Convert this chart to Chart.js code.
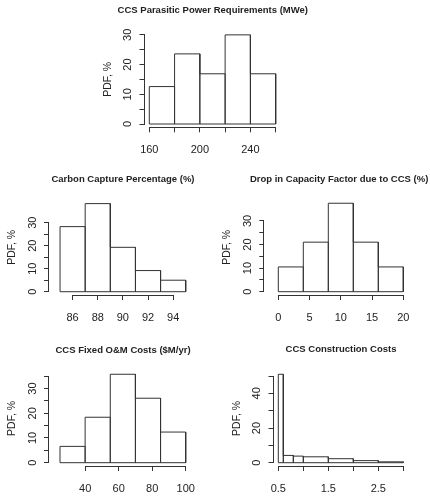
<!DOCTYPE html>
<html>
<head>
<meta charset="utf-8">
<script src="https://cdn.jsdelivr.net/npm/chart.js@4.4.1/dist/chart.umd.min.js"></script>
<style>
  html, body { margin: 0; padding: 0; background: #fff; overflow: hidden; }
  .wrap { position: relative; width: 430px; height: 498px; }
  .wrap canvas { position: absolute; left: 0; top: 0; }
</style>
</head>
<body>
<div class="wrap">
  <canvas id="parasitic" width="430" height="498"></canvas>
  <canvas id="capture" width="430" height="498"></canvas>
  <canvas id="drop" width="430" height="498"></canvas>
  <canvas id="om" width="430" height="498"></canvas>
  <canvas id="construction" width="430" height="498"></canvas>
</div>
<script>
// --- data ---
const parasiticEdges = [160, 180, 200, 220, 240, 260];
const parasiticPdf = [12.6, 23.6, 16.9, 30.0, 16.9];
const parasiticXTicks = [160, 180, 200, 220, 240, 260];
const parasiticXLabels = [160, 200, 240];

const captureEdges = [85, 87, 89, 91, 93, 95];
const capturePdf = [28.3, 38.3, 19.3, 9.2, 5.0];
const captureXTicks = [86, 88, 90, 92, 94];
const captureXLabels = [86, 88, 90, 92, 94];

const dropEdges = [0, 4, 8, 12, 16, 20];
const dropPdf = [10.5, 21.0, 37.5, 21.0, 10.5];
const dropXTicks = [0, 5, 10, 15, 20];
const dropXLabels = [0, 5, 10, 15, 20];

const omEdges = [25, 40, 55, 70, 85, 100];
const omPdf = [6.6, 18.4, 35.8, 26.1, 12.4];
const omXTicks = [40, 60, 80, 100];
const omXLabels = [40, 60, 80, 100];

const constructionEdges = [0.5, 0.6, 0.8, 1.0, 1.5, 2.0, 2.5, 3.0];
const constructionPdf = [51, 4.2, 3.8, 3.4, 2.3, 1.2, 0.5];
const constructionXTicks = [0.5, 1.0, 1.5, 2.0, 2.5, 3.0];
const constructionXLabels = [0.5, 1.5, 2.5];

const yTicks30 = [0, 5, 10, 15, 20, 25, 30];
const yTicks35 = [0, 5, 10, 15, 20, 25, 30, 35];
const yTicks50 = [0, 10, 20, 30, 40, 50];
const yLabels10 = [0, 10, 20, 30];
const yLabels20 = [0, 20, 40];

const yTitle = 'PDF, %';
const ink = '#222';
const lineCol = '#333';

Chart.defaults.font.family = "'Liberation Sans', Arial, sans-serif";
Chart.defaults.color = ink;

// outline of a histogram, R style: one rectangle per bin
function outline(edges, pdf) {
    const pts = [{ x: edges[0], y: 0 }];
    pdf.forEach((h, i) => {
        pts.push({ x: edges[i], y: h }, { x: edges[i + 1], y: h }, { x: edges[i + 1], y: 0 });
    });
    pts.push({ x: edges[0], y: 0 });
    return pts;
}

// axis line only from first to last tick, like base R graphics
const rAxes = {
    id: 'rAxes',
    afterDraw(chart) {
        const ctx = chart.ctx;
        const xs = chart.scales.x, ys = chart.scales.y;
        const xt = xs.ticks, yt = ys.ticks;
        ctx.save();
        ctx.strokeStyle = lineCol;
        ctx.lineWidth = 1;
        ctx.beginPath();
        const yLine = Math.round(xs.top) + 0.5;
        ctx.moveTo(Math.round(xs.getPixelForValue(xt[0].value) - 0.5) + 0.5, yLine);
        ctx.lineTo(Math.round(xs.getPixelForValue(xt[xt.length - 1].value) - 0.5) + 0.5, yLine);
        const xLine = Math.round(ys.right) - 0.5;
        ctx.moveTo(xLine, Math.round(ys.getPixelForValue(yt[0].value) - 0.5) + 0.5);
        ctx.lineTo(xLine, Math.round(ys.getPixelForValue(yt[yt.length - 1].value) - 0.5) + 0.5);
        ctx.stroke();
        ctx.restore();
    }
};

function hist(id, o) {
    new Chart(document.getElementById(id), {
        type: 'scatter',
        data: {
            datasets: [{
                data: outline(o.edges, o.pdf),
                showLine: true,
                borderColor: lineCol,
                borderWidth: 1,
                pointRadius: 0,
                fill: false,
                tension: 0
            }]
        },
        options: {
            responsive: false,
            animation: false,
            events: [],
            layout: { padding: o.pad },
            scales: {
                x: {
                    type: 'linear',
                    min: o.xMin, max: o.xMax,
                    afterBuildTicks: s => { s.ticks = o.xTicks.map(v => ({ value: v })); },
                    afterFit: s => { s.height = 30; },
                    grid: { drawOnChartArea: false, drawTicks: true, tickLength: 5, color: lineCol },
                    border: { display: false },
                    ticks: {
                        autoSkip: false, maxRotation: 0, padding: 11,
                        font: { size: 11 }, color: ink,
                        callback: v => o.xLabels.includes(v) ? String(v) : ''
                    }
                },
                y: {
                    type: 'linear',
                    min: o.yMin, max: o.yMax,
                    afterBuildTicks: s => { s.ticks = o.yTicks.map(v => ({ value: v })); },
                    afterFit: s => { s.width = 45; },
                    grid: { drawOnChartArea: false, drawTicks: true, tickLength: 5, color: lineCol },
                    border: { display: false },
                    ticks: {
                        autoSkip: false, minRotation: 90, maxRotation: 90,
                        crossAlign: 'center', padding: 5,
                        font: { size: 11 }, color: ink,
                        callback: v => o.yLabels.includes(v) ? String(v) : ''
                    },
                    title: {
                        display: true, text: yTitle, color: ink,
                        font: { size: 10.5 }, padding: { top: 2, bottom: 0 }
                    }
                }
            },
            plugins: {
                legend: { display: false },
                tooltip: { enabled: false },
                title: {
                    display: true, text: o.title, fullSize: o.titleFull, align: o.titleAlign,
                    color: ink,
                    font: { size: 9.5, weight: 'bold' },
                    padding: { top: 0, bottom: o.titleGap }
                }
            }
        },
        plugins: [rAxes]
    });
}

hist('parasitic', {
    title: 'CCS Parasitic Power Requirements (MWe)', titleFull: true, titleAlign: 'center',
    edges: parasiticEdges, pdf: parasiticPdf,
    xTicks: parasiticXTicks, xLabels: parasiticXLabels,
    yTicks: yTicks30, yLabels: yLabels10,
    xMin: 156.2, xMax: 299.9, yMin: -1.11, yMax: 31.2,
    pad: { left: 99.5, right: 103.9, top: 5.0, bottom: 340.7 }, titleGap: 14.9
});

hist('capture', {
    title: 'Carbon Capture Percentage (%)', titleFull: false, titleAlign: 'center',
    edges: captureEdges, pdf: capturePdf,
    xTicks: captureXTicks, xLabels: captureXLabels,
    yTicks: yTicks30, yLabels: yLabels10,
    xMin: 84.12, xMax: 95.9, yMin: -1.43, yMax: 40.0,
    pad: { left: 4, right: 233, top: 173.6, bottom: 173 }, titleGap: 14.7
});

hist('drop', {
    title: 'Drop in Capacity Factor due to CCS (%)', titleFull: true, titleAlign: 'end',
    edges: dropEdges, pdf: dropPdf,
    xTicks: dropXTicks, xLabels: dropXLabels,
    yTicks: yTicks30, yLabels: yLabels10,
    xMin: -2.24, xMax: 24.0, yMin: -1.4, yMax: 39.0,
    pad: { left: 219.3, right: 1.7, top: 173.6, bottom: 173 }, titleGap: 14.7
});

hist('om', {
    title: 'CCS Fixed O&M Costs ($M/yr)', titleFull: false, titleAlign: 'center',
    edges: omEdges, pdf: omPdf,
    xTicks: omXTicks, xLabels: omXLabels,
    yTicks: yTicks35, yLabels: yLabels10,
    xMin: 18.44, xMax: 106.75, yMin: -1.34, yMax: 37.2,
    pad: { left: 4, right: 233, top: 344.3, bottom: 2 }, titleGap: 15.1
});

hist('construction', {
    title: 'CCS Construction Costs', titleFull: false, titleAlign: 'center',
    edges: constructionEdges, pdf: constructionPdf,
    xTicks: constructionXTicks, xLabels: constructionXLabels,
    yTicks: yTicks50, yLabels: yLabels20,
    xMin: 0.404, xMax: 3.104, yMin: -1.9, yMax: 53.0,
    pad: { left: 228.5, right: 21.5, top: 344.0, bottom: 2 }, titleGap: 15.4
});
</script>
</body>
</html>
